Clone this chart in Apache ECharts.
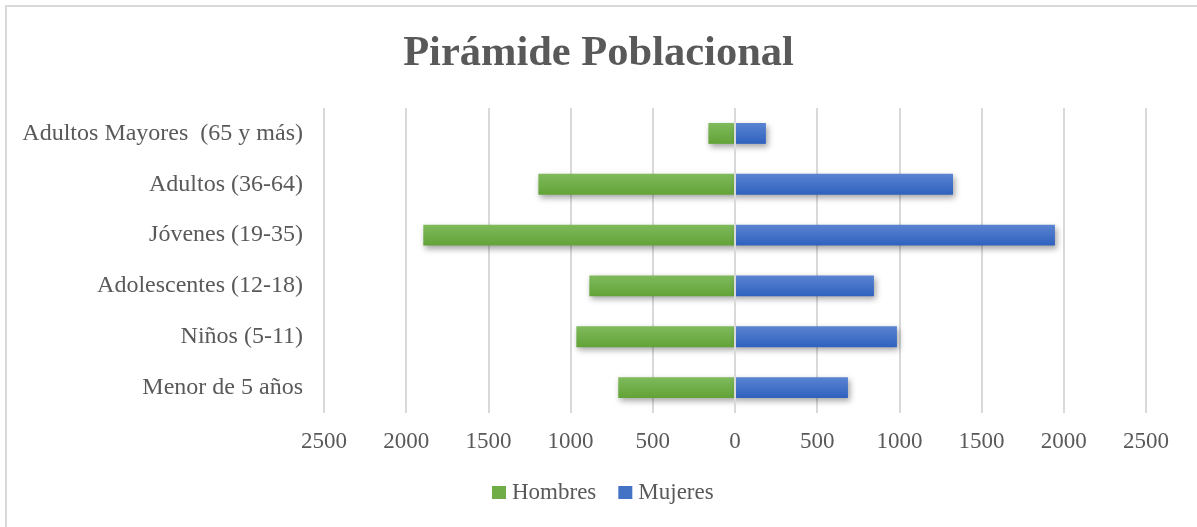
<!DOCTYPE html>
<html>
<head>
<meta charset="utf-8">
<script src="https://cdn.jsdelivr.net/npm/echarts@6/dist/echarts.min.js"></script>
<style>
html,body{margin:0;padding:0;background:#fff;overflow:hidden;}
#wrap{position:absolute;left:5px;top:5px;width:1200px;height:530px;border:2px solid #d9d9d9;box-sizing:border-box;}
#chart{position:absolute;left:0;top:0;width:1197px;height:527px;}
</style>
</head>
<body>
<div id="wrap"></div>
<div id="chart"></div>
<script>
const categories = ["Menor de 5 años","Niños (5-11)","Adolescentes (12-18)","Jóvenes (19-35)","Adultos (36-64)","Adultos Mayores  (65 y más)"];
const hombres = [710, 965, 886, 1896, 1196, 162];
const mujeres = [687, 985, 845, 1946, 1326, 188];
const xTicks = [-2500, 2500, 500];

const font = "Liberation Serif";
const txt = '#595959';
const chart = echarts.init(document.getElementById('chart'), null, {renderer:'canvas'});

const green = new echarts.graphic.LinearGradient(0,0,0,1,[{offset:0,color:'#7fba5c'},{offset:1,color:'#62a337'}]);
const blue = new echarts.graphic.LinearGradient(0,0,0,1,[{offset:0,color:'#5b84d2'},{offset:1,color:'#2e61be'}]);

chart.setOption({
  animation:false,
  backgroundColor:'transparent',
  title:{text:'Pirámide Poblacional',left:'center',top:28,textStyle:{fontFamily:font,fontSize:42.5,fontWeight:'bold',color:txt}},
  legend:{bottom:18,left:487,itemWidth:14,itemHeight:13,itemGap:22,icon:'rect',
    textStyle:{fontFamily:font,fontSize:23,color:txt,padding:[0,0,0,1]},
    data:[{name:'Hombres',itemStyle:{color:'#70ad47'}},{name:'Mujeres',itemStyle:{color:'#4472c4'}}]},
  grid:{left:324,right:51,top:108,bottom:114,containLabel:false},
  xAxis:{type:'value',min:xTicks[0],max:xTicks[1],interval:xTicks[2],
    axisLine:{show:false},axisTick:{show:false},
    axisLabel:{formatter:v=>Math.abs(v),fontFamily:font,fontSize:23,color:txt,margin:17},
    splitLine:{show:true,lineStyle:{color:'#d9d9d9',width:2}}},
  yAxis:{type:'category',data:categories,
    axisLine:{show:false},axisTick:{show:false},
    axisLabel:{fontFamily:font,fontSize:24,color:txt,margin:21}},
  series:[
    {name:'Hombres',type:'bar',stack:'t',barWidth:'41%',
     data:hombres.map(v=>-v),
     itemStyle:{color:green,shadowColor:'rgba(0,0,0,0.35)',shadowBlur:6,shadowOffsetX:2,shadowOffsetY:3}},
    {name:'Mujeres',type:'bar',stack:'t',barWidth:'41%',
     data:mujeres,
     itemStyle:{color:blue,shadowColor:'rgba(0,0,0,0.35)',shadowBlur:6,shadowOffsetX:2,shadowOffsetY:3},
     markLine:{silent:true,symbol:'none',label:{show:false},lineStyle:{color:'#d9d9d9',width:2,type:'solid'},data:[{xAxis:0}]}}
  ]
});
</script>
</body>
</html>
